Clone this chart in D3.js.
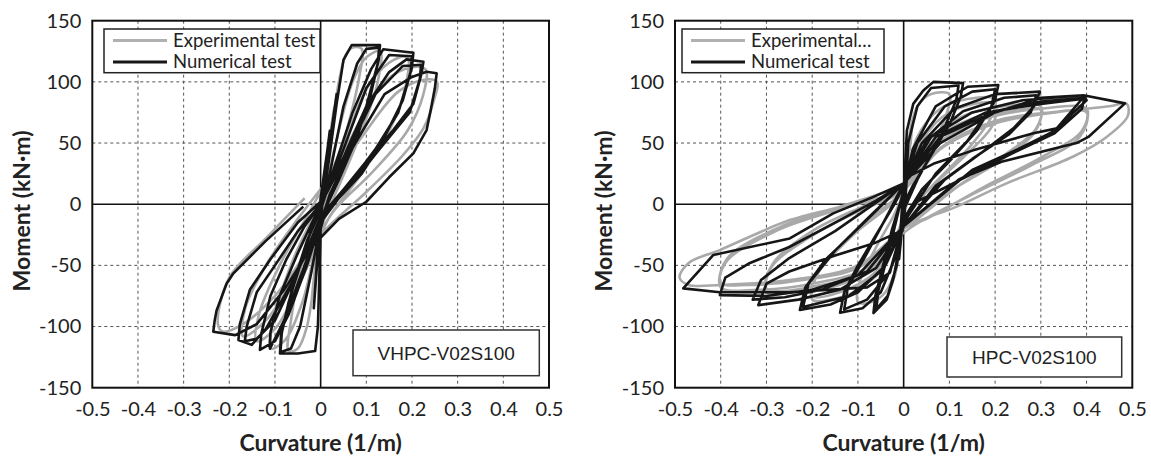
<!DOCTYPE html>
<html>
<head>
<meta charset="utf-8">
<script src="https://cdn.jsdelivr.net/npm/d3@7"></script>
<style>
  body { margin: 0; background: #fff; }
  svg { display: block; font-family: Lato, "Open Sans", sans-serif; }
</style>
</head>
<body>
<svg id="chart" width="1151" height="458"></svg>
<script>
// tick values and labels
let xTicks = [-0.5, -0.4, -0.3, -0.2, -0.1, 0, 0.1, 0.2, 0.3, 0.4, 0.5];
let yTicks = [-150, -100, -50, 0, 50, 100, 150];
let xTitle = "Curvature (1/m)";
let yTitle = "Moment (kN·m)";
let legendLeft = ["Experimental test", "Numerical test"];
let legendRight = ["Experimental…", "Numerical test"];
let specimens = ["VHPC-V02S100", "HPC-V02S100"];

// VHPC-V02S100, numerical test: [curvature, moment]
let vhpcNum = [
  [0,0],[0.01,30],[0.02,60],[0.015,45],[0,5],[-0.005,-30],[-0.01,-60],[-0.008,-45],[0,-5],
  [0.02,50],[0.035,90],[0.03,75],[0.01,20],[-0.005,-30],[-0.015,-85],[-0.012,-70],[0,-10],
  [0.01,15],[0.02,41],[0.035,82],[0.05,118],[0.068,130],[0.13,130],[0.127,118],[0.11,90],[0.08,55],[0.04,20],[0.015,0],[0,-20],[-0.003,-60],[-0.006,-100],[-0.012,-120],[-0.05,-122],[-0.089,-122],[-0.087,-108],[-0.07,-80],[-0.045,-50],[-0.02,-20],[0,-3],
  [0.02,25],[0.05,80],[0.08,115],[0.1,127],[0.128,128],[0.125,115],[0.1,80],[0.06,40],[0.02,8],[0,-15],[-0.02,-55],[-0.045,-100],[-0.065,-118],[-0.088,-121],[-0.085,-105],[-0.06,-65],[-0.03,-30],[0,-5],
  [0.03,30],[0.07,75],[0.11,110],[0.137,126.6],[0.203,123.8],[0.2,112],[0.18,85],[0.14,55],[0.09,25],[0.04,5],[0,-15],[-0.03,-50],[-0.07,-90],[-0.1,-112],[-0.133,-119],[-0.13,-106],[-0.11,-75],[-0.075,-45],[-0.035,-18],[0,0],
  [0.04,35],[0.1,95],[0.15,122],[0.2,121],[0.197,108],[0.17,75],[0.12,45],[0.06,15],[0.01,-5],[-0.03,-45],[-0.08,-95],[-0.111,-118],[-0.11,-105],[-0.09,-75],[-0.05,-40],[-0.01,-8],
  [0.04,30],[0.1,80],[0.15,108],[0.188,118.4],[0.225,116.4],[0.221,107],[0.203,82],[0.159,60.6],[0.1,35],[0.05,12],[0,-10],[-0.05,-55],[-0.1,-95],[-0.14,-110],[-0.166,-112],[-0.162,-100],[-0.14,-72],[-0.1,-50],[-0.05,-22],[0,0],
  [0.05,35],[0.12,90],[0.18,113],[0.22,114],[0.217,102],[0.195,75],[0.14,50],[0.07,18],[0.01,-8],[-0.06,-62],[-0.12,-102],[-0.151,-115],[-0.18,-111],[-0.177,-98],[-0.155,-70],[-0.11,-45],[-0.05,-15],[0,2],
  [0.06,40],[0.14,90],[0.2,104],[0.232,108.3],[0.254,107],[0.25,94.7],[0.24,75],[0.232,60.6],[0.203,41.6],[0.15,22],[0.1,2],[0.04,-12],[-0.02,-35],[-0.08,-70],[-0.14,-98],[-0.187,-107],[-0.235,-104.2],[-0.232,-95],[-0.228,-87],[-0.206,-65],[-0.191,-56.5],[-0.12,-30],[-0.038,-2]
];

// VHPC-V02S100, experimental test
let vhpcExp = [
  [0,0],[0.015,40],[0.03,80],[0.025,60],[0,0],[-0.01,-50],[-0.02,-80],[-0.012,-50],[0,-5],
  [0.02,50],[0.04,100],[0.055,122],[0.07,128],[0.09,127],[0.085,105],[0.05,50],[0.01,0],[-0.01,-50],[-0.03,-100],[-0.05,-118],[-0.07,-120],[-0.065,-95],[-0.035,-40],[0,-5],
  [0.03,45],[0.07,100],[0.1,120],[0.13,125],[0.125,100],[0.09,60],[0.04,15],[0,-20],[-0.04,-80],[-0.08,-112],[-0.11,-118],[-0.1,-90],[-0.06,-45],[-0.01,-5],
  [0.05,50],[0.11,100],[0.16,118],[0.19,120],[0.185,95],[0.15,60],[0.08,20],[0.02,-10],[-0.04,-60],[-0.1,-102],[-0.14,-112],[-0.135,-90],[-0.09,-50],[-0.03,-10],
  [0.06,50],[0.14,100],[0.2,112],[0.23,110],[0.225,90],[0.19,60],[0.11,25],[0.03,-5],[-0.05,-55],[-0.12,-95],[-0.17,-108],[-0.165,-85],[-0.12,-50],[-0.05,-12],
  [0.08,50],[0.17,92],[0.23,102],[0.255,100],[0.248,85],[0.225,62],[0.18,40],[0.1,10],[0,-25],[-0.1,-75],[-0.17,-98],[-0.215,-104],[-0.225,-98],[-0.2,-60],[-0.12,-28],[-0.035,5]
];

// HPC-V02S100, numerical test
let hpcNum = [
  [0,0],[0.005,30],[0.01,50],[0.008,35],[0,5],[-0.005,-25],[-0.01,-45],[-0.007,-30],[0,-5],
  [0.003,30],[0.007,60],[0.021,82],[0.043,93],[0.065,100],[0.13,99],[0.125,88],[0.1,65],[0.06,40],[0.02,15],[0,0],[-0.005,-20],[-0.012,-40],[-0.023,-62],[-0.037,-78],[-0.066,-89],[-0.062,-75],[-0.045,-50],[-0.025,-20],[0,10],
  [0.01,50],[0.03,80],[0.06,95],[0.12,97],[0.115,85],[0.08,55],[0.03,20],[0,-5],[-0.015,-50],[-0.035,-75],[-0.06,-86],[-0.055,-70],[-0.03,-35],[0,12],
  [0.02,45],[0.07,80],[0.14,96],[0.207,97.4],[0.2,85],[0.16,60],[0.1,35],[0.04,12],[0,-12],[-0.02,-45],[-0.05,-72],[-0.09,-85],[-0.139,-88.7],[-0.13,-72],[-0.1,-50],[-0.06,-25],[-0.02,0],[0,15],
  [0.03,50],[0.09,80],[0.15,92],[0.2,94],[0.192,80],[0.14,52],[0.07,25],[0,-15],[-0.03,-55],[-0.08,-78],[-0.13,-86],[-0.122,-68],[-0.08,-40],[-0.03,-5],[0,17],
  [0.04,50],[0.11,78],[0.2,90],[0.298,92],[0.285,80],[0.24,62],[0.17,42],[0.09,20],[0,-18],[-0.04,-50],[-0.1,-72],[-0.16,-82],[-0.227,-86.5],[-0.215,-68],[-0.17,-45],[-0.1,-20],[-0.04,2],[0,17],
  [0.05,52],[0.13,76],[0.22,87],[0.29,89],[0.278,75],[0.23,57],[0.15,37],[0.07,15],[0,-18],[-0.05,-55],[-0.12,-75],[-0.22,-84],[-0.208,-65],[-0.15,-38],[-0.08,-12],[0,17],
  [0.06,55],[0.15,75],[0.26,85],[0.393,89],[0.4,85],[0.335,62],[0.284,58],[0.152,44],[0.065,33],[0.007,22],[0,-18],[-0.06,-52],[-0.14,-70],[-0.23,-78],[-0.318,-82.5],[-0.3,-65],[-0.25,-55],[-0.15,-42],[-0.065,-32],[-0.007,-22],[0,17],
  [0.07,55],[0.18,75],[0.3,82],[0.39,86],[0.33,60],[0.25,45],[0.15,28],[0,-18],[-0.08,-55],[-0.18,-70],[-0.26,-76],[-0.33,-78],[-0.312,-62],[-0.25,-44],[-0.15,-22],[0,17],
  [0.08,55],[0.2,76],[0.3,84],[0.395,87],[0.39,78],[0.33,58],[0.24,42],[0.12,20],[0,-18],[-0.1,-58],[-0.2,-70],[-0.3,-75],[-0.402,-74.3],[-0.39,-60],[-0.336,-48],[-0.25,-35],[-0.15,-15],[-0.06,3],[0,17],
  [0.08,50],[0.2,75],[0.3,87],[0.393,89],[0.484,82.4],[0.404,55],[0.378,50],[0.214,34.7],[0.145,24],[0.08,11.6],[0.021,0.7],[0,-18],[-0.015,-35],[-0.03,-56],[-0.08,-68],[-0.25,-72],[-0.402,-72],[-0.482,-68.8],[-0.416,-41.5],[-0.249,-28],[-0.154,-7.5],[-0.066,6],[0,17]
];

// HPC-V02S100, experimental test
let hpcExp = [
  [0,0],[0.01,50],[0.02,70],[0.015,50],[0,10],[-0.01,-40],[-0.02,-60],[-0.012,-40],[0,-5],
  [0.01,50],[0.03,80],[0.06,90],[0.1,90],[0.095,75],[0.06,45],[0.02,15],[0,-10],[-0.015,-50],[-0.04,-72],[-0.07,-80],[-0.1,-80],[-0.095,-62],[-0.06,-35],[-0.02,-8],[0,10],
  [0.03,55],[0.08,78],[0.14,86],[0.2,86],[0.19,70],[0.14,45],[0.07,18],[0,-12],[-0.04,-50],[-0.1,-70],[-0.16,-78],[-0.2,-78],[-0.19,-58],[-0.13,-32],[-0.06,-8],[0,12],
  [0.04,52],[0.1,75],[0.2,82],[0.195,65],[0.13,38],[0.05,10],[0,-15],[-0.06,-55],[-0.14,-72],[-0.2,-75],[-0.185,-55],[-0.11,-25],[0,10],
  [0.05,50],[0.13,72],[0.22,80],[0.3,80],[0.29,62],[0.22,40],[0.12,15],[0.03,-12],[0,-20],[-0.06,-52],[-0.15,-67],[-0.24,-72],[-0.3,-72],[-0.29,-52],[-0.21,-28],[-0.1,-6],[0,12],
  [0.06,50],[0.15,70],[0.25,77],[0.3,77],[0.285,58],[0.2,33],[0.1,10],[0,-20],[-0.08,-55],[-0.18,-66],[-0.3,-69],[-0.285,-48],[-0.2,-22],[-0.09,-2],[0,12],
  [0.07,48],[0.18,70],[0.3,78],[0.4,78],[0.39,60],[0.3,38],[0.18,15],[0.05,-12],[0,-20],[-0.08,-52],[-0.2,-65],[-0.32,-70],[-0.4,-68],[-0.39,-48],[-0.28,-22],[-0.13,-3],[0,12],
  [0.08,46],[0.2,68],[0.32,75],[0.4,75],[0.385,55],[0.28,32],[0.15,8],[0.02,-18],[-0.1,-52],[-0.22,-62],[-0.34,-66],[-0.4,-64],[-0.385,-44],[-0.26,-17],[-0.12,0],[0,12],
  [0.08,45],[0.2,66],[0.35,76],[0.45,80],[0.488,82],[0.49,72],[0.444,55],[0.371,39],[0.225,17],[0.116,-2],[0.007,-18.4],[-0.1,-50],[-0.25,-62],[-0.4,-66],[-0.47,-66],[-0.49,-60],[-0.47,-48],[-0.402,-37.5],[-0.249,-13],[-0.139,-2],[0,15]
];

let svg = d3.select("#chart");

function drawPanel(p) {
  let x = d3.scaleLinear().domain([-0.5, 0.5]).range([p.left, p.right]);
  let y = d3.scaleLinear().domain([-150, 150]).range([387.7, 20.7]);
  let g = svg.append("g");

  // dashed grid
  g.selectAll(".vgrid")
    .data(xTicks.filter(d => d != 0 && Math.abs(d) != 0.5))
    .enter().append("line")
    .attr("x1", d => x(d)).attr("x2", d => x(d))
    .attr("y1", y(150)).attr("y2", y(-150))
    .attr("stroke", "#555").attr("stroke-width", 1).attr("stroke-dasharray", "3,3");
  g.selectAll(".hgrid")
    .data(yTicks.filter(d => d != 0 && Math.abs(d) != 150))
    .enter().append("line")
    .attr("x1", x(-0.5)).attr("x2", x(0.5))
    .attr("y1", d => y(d)).attr("y2", d => y(d))
    .attr("stroke", "#555").attr("stroke-width", 1).attr("stroke-dasharray", "3,3");

  // zero lines
  g.append("line").attr("x1", x(0)).attr("x2", x(0)).attr("y1", y(150)).attr("y2", y(-150))
    .attr("stroke", "#111").attr("stroke-width", 1.6);
  g.append("line").attr("x1", x(-0.5)).attr("x2", x(0.5)).attr("y1", y(0)).attr("y2", y(0))
    .attr("stroke", "#111").attr("stroke-width", 1.6);

  // curves, clipped to the plot
  let clipId = "clip" + p.id;
  svg.append("clipPath").attr("id", clipId).append("rect")
    .attr("x", x(-0.5)).attr("y", y(150))
    .attr("width", x(0.5) - x(-0.5)).attr("height", y(-150) - y(150));

  let smooth = d3.line().x(d => x(d[0])).y(d => y(d[1])).curve(d3.curveCatmullRom.alpha(0.5));
  let straight = d3.line().x(d => x(d[0])).y(d => y(d[1]));

  g.append("path").datum(p.exp)
    .attr("clip-path", "url(#" + clipId + ")")
    .attr("d", smooth)
    .attr("fill", "none").attr("stroke", "#a9a9a9").attr("stroke-width", 2.6)
    .attr("stroke-linejoin", "round");
  g.append("path").datum(p.num)
    .attr("clip-path", "url(#" + clipId + ")")
    .attr("d", straight)
    .attr("fill", "none").attr("stroke", "#161616").attr("stroke-width", 2.6)
    .attr("stroke-linejoin", "round");

  // frame
  g.append("rect")
    .attr("x", x(-0.5)).attr("y", y(150))
    .attr("width", x(0.5) - x(-0.5)).attr("height", y(-150) - y(150))
    .attr("fill", "none").attr("stroke", "#111").attr("stroke-width", 2);

  // axes (labels only)
  let xAxis = g.append("g")
    .attr("transform", "translate(0," + y(-150) + ")")
    .call(d3.axisBottom(x).tickValues(xTicks).tickSize(0).tickPadding(14).tickFormat(d => String(d)));
  let yAxis = g.append("g")
    .attr("transform", "translate(" + x(-0.5) + ",0)")
    .call(d3.axisLeft(y).tickValues(yTicks).tickSize(0).tickPadding(11).tickFormat(d => String(d)));
  [xAxis, yAxis].forEach(a => {
    a.select(".domain").remove();
    a.selectAll("text").attr("font-family", "Lato, 'Open Sans', sans-serif")
      .attr("font-size", 20).attr("fill", "#222");
  });

  // axis titles
  g.append("text")
    .attr("x", (x(-0.5) + x(0.5)) / 2).attr("y", 451)
    .attr("text-anchor", "middle")
    .attr("font-size", 23).attr("font-weight", "bold").attr("fill", "#222")
    .text(xTitle);
  g.append("text")
    .attr("transform", "translate(" + p.yTitleX + ",211) rotate(-90)")
    .attr("text-anchor", "middle").attr("dy", "0.35em")
    .attr("font-size", 23).attr("font-weight", "bold").attr("fill", "#222")
    .text(yTitle);

  // legend
  let lg = g.append("g");
  lg.append("rect")
    .attr("x", p.legX).attr("y", 29).attr("width", p.legW).attr("height", 43.7)
    .attr("fill", "#fff").attr("stroke", "#222").attr("stroke-width", 1.5);
  lg.selectAll(".legline")
    .data(p.legend)
    .enter().append("line")
    .attr("x1", p.legX + 9).attr("x2", p.legX + 63)
    .attr("y1", (d, i) => 40.5 + i * 21.5).attr("y2", (d, i) => 40.5 + i * 21.5)
    .attr("stroke", (d, i) => i == 0 ? "#b0b0b0" : "#161616").attr("stroke-width", 3);
  lg.selectAll(".legtext")
    .data(p.legend)
    .enter().append("text")
    .attr("x", p.legX + 69)
    .attr("y", (d, i) => 40.5 + i * 21.5).attr("dy", "0.35em")
    .attr("font-size", 18.5).attr("fill", "#222")
    .text(d => d);

  // specimen label
  g.append("rect")
    .attr("x", p.boxX).attr("y", p.boxY).attr("width", p.boxW).attr("height", p.boxH)
    .attr("fill", "#fff").attr("stroke", "#333").attr("stroke-width", 1.5);
  g.append("text")
    .attr("x", p.boxX + p.boxW / 2).attr("y", p.boxY + p.boxH / 2).attr("dy", "0.35em")
    .attr("text-anchor", "middle")
    .attr("font-family", "'Liberation Sans', Arial, sans-serif")
    .attr("font-size", 19).attr("fill", "#222")
    .text(p.name);
}

drawPanel({ id: 1, left: 92.3, right: 549, yTitleX: 22, num: vhpcNum, exp: vhpcExp,
  legend: legendLeft, legX: 104, legW: 216, name: specimens[0],
  boxX: 353, boxY: 330, boxW: 186.3, boxH: 45.7 });
drawPanel({ id: 2, left: 675, right: 1132.3, yTitleX: 604, num: hpcNum, exp: hpcExp,
  legend: legendRight, legX: 682, legW: 202, name: specimens[1],
  boxX: 947, boxY: 337, boxW: 174.7, boxH: 40 });
</script>
</body>
</html>
